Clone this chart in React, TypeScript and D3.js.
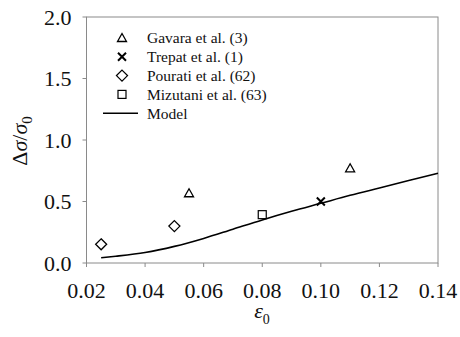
import { useEffect, useState } from 'react'
import * as d3 from 'd3'

// model curve
const modelEps = [0.025, 0.03, 0.04, 0.05, 0.06, 0.07, 0.08, 0.09, 0.1, 0.11, 0.12, 0.13, 0.14]
const modelVal = [0.043, 0.055, 0.085, 0.135, 0.2, 0.275, 0.35, 0.42, 0.485, 0.55, 0.61, 0.67, 0.73]

// experimental points
const gavaraEps = [0.055, 0.11]
const gavaraVal = [0.567, 0.77]
const trepatEps = [0.1]
const trepatVal = [0.5]
const pouratiEps = [0.025, 0.05]
const pouratiVal = [0.152, 0.3]
const mizutaniEps = [0.08]
const mizutaniVal = [0.393]

const xTicks = [0.02, 0.04, 0.06, 0.08, 0.1, 0.12, 0.14]
const yTicks = [0, 0.5, 1.0, 1.5, 2.0]

const legendLabels = ['Gavara et al. (3)', 'Trepat et al. (1)', 'Pourati et al. (62)', 'Mizutani et al. (63)', 'Model']

const W = 460
const H = 337
const MARGIN = { top: 17, right: 22, bottom: 74, left: 86.5 }
const FONT = '"Liberation Serif", "Times New Roman", Tinos, FreeSerif, "DejaVu Serif", serif'
const AXIS = '#8a8a8a'

type Kind = 'triangle' | 'x' | 'diamond' | 'square'

const Marker = ({ kind, x, y }: { kind: Kind; x: number; y: number }) => {
  if (kind === 'triangle') {
    return <path d={`M${x},${y - 4.5}L${x + 4.5},${y + 3.5}L${x - 4.5},${y + 3.5}Z`} fill="none" stroke="#000" strokeWidth={1.3} />
  }
  if (kind === 'x') {
    return <path d={`M${x - 4},${y - 4}L${x + 4},${y + 4}M${x - 4},${y + 4}L${x + 4},${y - 4}`} fill="none" stroke="#000" strokeWidth={2} />
  }
  if (kind === 'diamond') {
    return <path d={`M${x},${y - 5.5}L${x + 5.5},${y}L${x},${y + 5.5}L${x - 5.5},${y}Z`} fill="none" stroke="#000" strokeWidth={1.3} />
  }
  return <rect x={x - 4} y={y - 4} width={8} height={8} fill="none" stroke="#000" strokeWidth={1.2} />
}

export default function App() {
  // re-render once fonts are settled
  const [, setTick] = useState(0)
  useEffect(() => {
    document.fonts?.ready.then(() => setTick((t) => t + 1))
    const id = setTimeout(() => setTick((t) => t + 1), 200)
    return () => clearTimeout(id)
  }, [])

  const iw = W - MARGIN.left - MARGIN.right
  const ih = H - MARGIN.top - MARGIN.bottom

  const x = d3.scaleLinear().domain([0.02, 0.14]).range([0, iw])
  const y = d3.scaleLinear().domain([0, 2]).range([ih, 0])

  const line = d3
    .line<number>()
    .x((_, i) => x(modelEps[i]))
    .y((d) => y(d))
    .curve(d3.curveMonotoneX)

  const series: { kind: Kind; eps: number[]; val: number[] }[] = [
    { kind: 'triangle', eps: gavaraEps, val: gavaraVal },
    { kind: 'x', eps: trepatEps, val: trepatVal },
    { kind: 'diamond', eps: pouratiEps, val: pouratiVal },
    { kind: 'square', eps: mizutaniEps, val: mizutaniVal },
  ]

  const txt = { fontFamily: FONT }

  return (
    <svg width={W} height={H} style={{ position: 'absolute', left: 0, top: 0, background: '#fff', fontFamily: FONT }}>
      <g transform={`translate(${MARGIN.left},${MARGIN.top})`}>
        {/* frame */}
        <rect x={0} y={0} width={iw} height={ih} fill="none" stroke={AXIS} strokeWidth={1} />

        {yTicks.map((t) => (
          <g key={t}>
            <line x1={-4} x2={0} y1={y(t)} y2={y(t)} stroke={AXIS} />
            <text x={-15} y={y(t)} dy="0.35em" textAnchor="end" fontSize={22} fill="#111" style={txt}>
              {t.toFixed(1)}
            </text>
          </g>
        ))}

        {xTicks.map((t) => (
          <g key={t}>
            <line x1={x(t)} x2={x(t)} y1={ih} y2={ih + 4} stroke={AXIS} />
            <text x={x(t)} y={ih + 35} textAnchor="middle" fontSize={22} fill="#111" style={txt}>
              {t.toFixed(2)}
            </text>
          </g>
        ))}

        <path d={line(modelVal) ?? ''} fill="none" stroke="#000" strokeWidth={1.6} />

        {series.map((s) =>
          s.eps.map((e, i) => <Marker key={`${s.kind}${i}`} kind={s.kind} x={x(e)} y={y(s.val[i])} />)
        )}
      </g>

      {/* legend */}
      {legendLabels.map((label, i) => {
        const cy = 38 + i * 18.8
        return (
          <g key={label}>
            {i < 4 ? (
              <Marker kind={series[i].kind} x={122} y={cy} />
            ) : (
              <line x1={103} x2={138} y1={cy} y2={cy} stroke="#000" strokeWidth={1.6} />
            )}
            <text x={147} y={cy} dy="0.35em" fontSize={15.5} fill="#111" style={txt}>
              {label}
            </text>
          </g>
        )
      })}

      {/* axis titles */}
      <text transform="translate(27,141) rotate(-90)" textAnchor="middle" fontSize={22} fill="#111" style={txt}>
        Δ<tspan fontStyle="italic">σ</tspan>/<tspan fontStyle="italic">σ</tspan>
        <tspan fontSize={15} dy={5}>0</tspan>
      </text>
      <text x={262} y={318} textAnchor="middle" fontSize={22} fill="#111" style={txt}>
        <tspan fontStyle="italic">ε</tspan>
        <tspan fontSize={14} dy={6}>0</tspan>
      </text>
    </svg>
  )
}
